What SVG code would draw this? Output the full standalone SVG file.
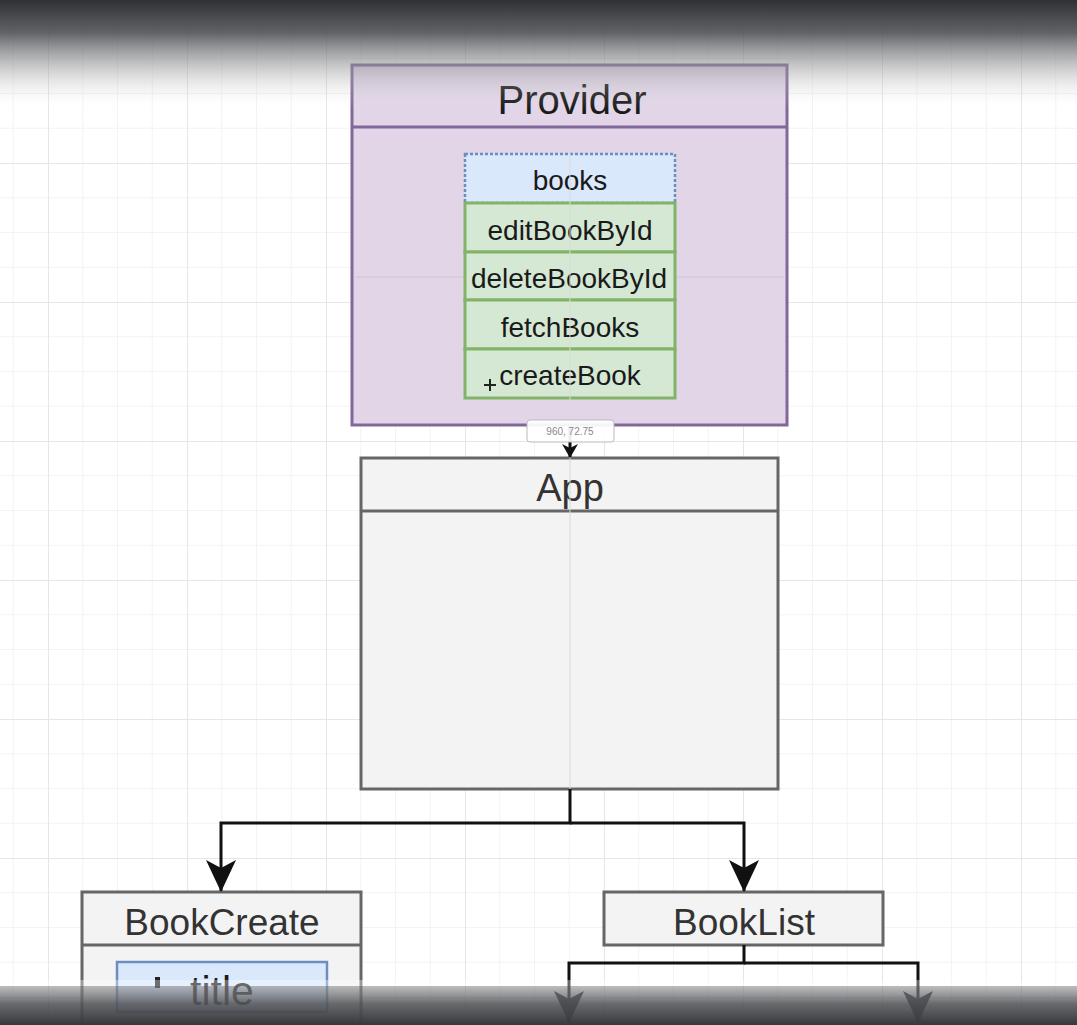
<svg xmlns="http://www.w3.org/2000/svg" width="1077" height="1025" viewBox="0 0 1077 1025">
<style>
.t{font-family:"Liberation Sans",Arial,sans-serif;fill:#1a1a1a;text-anchor:middle}
.tg{font-family:"Liberation Sans",Arial,sans-serif;fill:#333;text-anchor:middle}
.prov{fill:#e1d5e7;stroke:#82689a;stroke-width:3}
.blue{fill:#dae8fc;stroke:#6c8ebf;stroke-width:2.5;stroke-dasharray:3 2}
.green{fill:#d5e8d4;stroke:#82b366;stroke-width:3}
.gray{fill:#f3f3f3;stroke:#666;stroke-width:3}
.conn{fill:none;stroke:#111;stroke-width:3}
</style>
<defs>
<pattern id="grid" x="48" y="24" width="139" height="139" patternUnits="userSpaceOnUse">
<path d="M34.75 0V139M69.5 0V139M104.25 0V139M0 34.75H139M0 69.5H139M0 104.25H139" stroke="#f3f3f3" stroke-width="1" fill="none"/>
<path d="M0.5 0V139M0 0.5H139" stroke="#e6e6e6" stroke-width="1" fill="none"/>
</pattern>
<marker id="arr" viewBox="0 0 14 16" refX="13" refY="8" markerWidth="14" markerHeight="16" orient="auto" markerUnits="userSpaceOnUse">
<path d="M0 0L14 8L0 16L4 8Z" fill="#111"/>
</marker>
<marker id="big" viewBox="0 0 32 30" refX="31" refY="15" markerWidth="32" markerHeight="30" orient="auto" markerUnits="userSpaceOnUse">
<path d="M0 0L32 15L0 30L8 15Z" fill="#111"/>
</marker>
<linearGradient id="topg" x1="0" y1="0" x2="0" y2="1">
<stop offset="0" stop-color="#2e3034" stop-opacity="1"/>
<stop offset="0.3" stop-color="#505256" stop-opacity="0.9"/>
<stop offset="0.6" stop-color="#8f9093" stop-opacity="0.5"/>
<stop offset="0.85" stop-color="#c8c8c8" stop-opacity="0.15"/>
<stop offset="1" stop-color="#ffffff" stop-opacity="0"/>
</linearGradient>
<linearGradient id="botg" x1="0" y1="0" x2="0" y2="1">
<stop offset="0" stop-color="#8e8f92" stop-opacity="0.6"/>
<stop offset="0.45" stop-color="#55565a" stop-opacity="0.88"/>
<stop offset="1" stop-color="#36373b" stop-opacity="1"/>
</linearGradient>
</defs>
<rect width="1077" height="1025" fill="#ffffff"/>
<rect width="1077" height="1025" fill="url(#grid)"/>

<g id="provider">
<rect class="prov" x="352" y="65" width="435" height="360"/>
<line x1="352" y1="127" x2="787" y2="127" stroke="#82689a" stroke-width="3"/>
<text class="t" x="572" y="114" font-size="40">Provider</text>
<line x1="355" y1="277" x2="784" y2="277" stroke="#cfc3d6" stroke-width="1"/>
</g>
<g id="books">
<rect class="blue" x="465" y="154" width="210" height="49"/>
<text class="t" x="570" y="190" font-size="28">books</text>
</g>
<g id="editBookById">
<rect class="green" x="465" y="203" width="210" height="49"/>
<text class="t" x="570" y="240" font-size="28">editBookById</text>
</g>
<g id="deleteBookById">
<rect class="green" x="465" y="252" width="210" height="48"/>
<text class="t" x="569" y="288" font-size="28">deleteBookById</text>
</g>
<g id="fetchBooks">
<rect class="green" x="465" y="300" width="210" height="49"/>
<text class="t" x="570" y="337" font-size="28">fetchBooks</text>
</g>
<g id="createBook">
<rect class="green" x="465" y="349" width="210" height="49"/>
<text class="t" x="570" y="385" font-size="28">createBook</text>
<path d="M490 379V391M484 385H496" stroke="#222" stroke-width="2"/>
</g>

<g id="app">
<rect class="gray" x="361" y="458" width="417" height="331"/>
<line x1="361" y1="511" x2="778" y2="511" stroke="#666" stroke-width="3"/>
<text class="tg" x="570" y="501" font-size="38">App</text>
</g>
<line x1="570" y1="150" x2="570" y2="790" stroke="#d8d8d8" stroke-width="1"/>

<g id="bookcreate">
<rect class="gray" x="82" y="892" width="279" height="145"/>
<line x1="82" y1="945" x2="361" y2="945" stroke="#666" stroke-width="3"/>
<text class="tg" x="222" y="935" font-size="37">BookCreate</text>
<rect x="117" y="962" width="210" height="50" fill="#dae8fc" stroke="#6c8ebf" stroke-width="2.5"/>
<text class="t" x="222" y="1005" font-size="41">title</text>
<rect x="155" y="977" width="5" height="11" fill="#222"/>
</g>

<g id="booklist">
<rect class="gray" x="604" y="892" width="279" height="53"/>
<text class="tg" x="744" y="935" font-size="37">BookList</text>
</g>

<g id="connectors">
<line class="conn" x1="570" y1="426" x2="570" y2="457" stroke-width="1.5" marker-end="url(#arr)"/>
<path class="conn" d="M570 789V823H221V891" marker-end="url(#big)"/>
<path class="conn" d="M570 823H744V891" marker-end="url(#big)"/>
<path class="conn" d="M744 945V963H569V1022" marker-end="url(#big)"/>
<path class="conn" d="M744 963H918V1022" marker-end="url(#big)"/>
</g>

<g id="tooltip">
<rect x="527" y="420" width="87" height="22" rx="3" fill="#ffffff" fill-opacity="0.92" stroke="#bbb" stroke-width="1"/>
<text x="570" y="435" font-size="10" fill="#888" text-anchor="middle" font-family="Liberation Sans, Arial, sans-serif">960, 72.75</text>
</g>

<rect x="0" y="0" width="1077" height="110" fill="url(#topg)"/>
<rect x="0" y="980" width="1077" height="6" fill="#ffffff" fill-opacity="0.35"/>
<rect x="0" y="986" width="1077" height="39" fill="url(#botg)"/>
</svg>
